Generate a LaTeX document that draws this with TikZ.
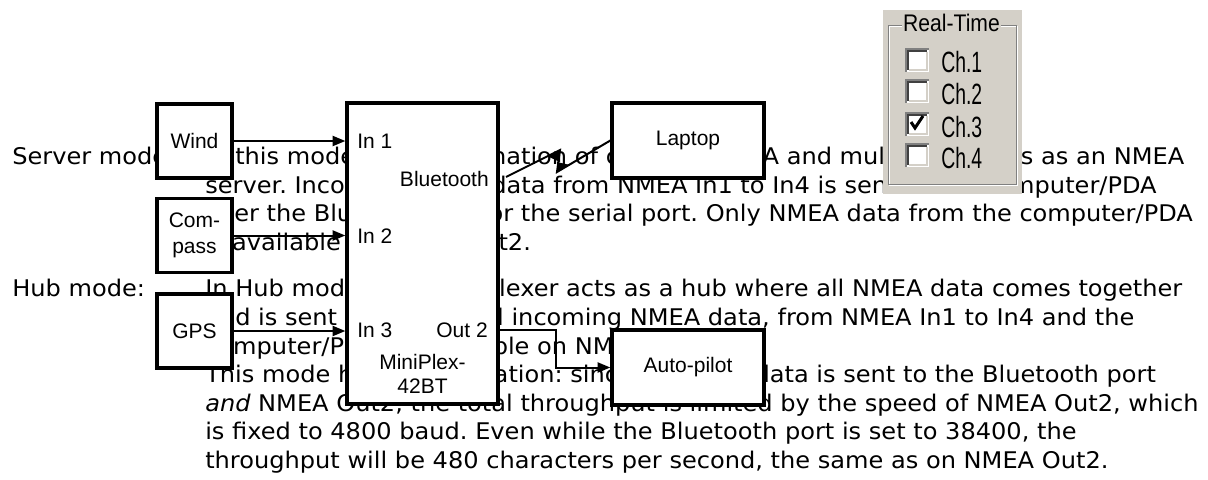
\documentclass[tikz,border=0pt]{standalone}
\usepackage{fontspec}
\setmainfont[FakeStretch=1.05]{DejaVu Sans}
\newfontfamily\labelfont{Liberation Sans}
\newfontfamily\groupfont[FakeStretch=0.88]{Liberation Sans}
\newfontfamily\chfont[FakeStretch=0.66]{Liberation Sans}
\usetikzlibrary{arrows.meta}
\definecolor{panelgray}{RGB}{212,208,200}
\definecolor{shadegray}{RGB}{128,128,128}
\definecolor{darkshade}{RGB}{64,64,64}
\frenchspacing

\tikzset{
  bodytext/.style={anchor=base west, inner sep=0pt, font=\fontsize{17.2}{22}\selectfont},
  unitbox/.style={draw, line width=2.5pt, fill=white, align=center, inner sep=0pt, font=\labelfont\fontsize{15.75}{20}\selectfont},
  sensorbox/.style={unitbox, minimum width=56.25pt, minimum height=55.5pt},
  devicebox/.style={unitbox, minimum width=114pt, minimum height=56.25pt},
  port/.style={inner sep=0pt, font=\labelfont\fontsize{15.75}{18}\selectfont},
  feed/.style={line width=1.5pt, -{Triangle[length=9.5pt,width=7.5pt]}},
  chlabel/.style={anchor=base west, inner sep=0pt, font=\chfont\fontsize{22}{24}\selectfont},
}

\begin{document}
\begin{tikzpicture}[x=0.75pt,y=-0.75pt]
\useasboundingbox (0,0) rectangle (1208,479);
% text under the diagram
\node[bodytext] (srvhead) at (12,164) {Server mode:};
\node[bodytext] (srv1) at (205,164) {In this mode, the combination of computer/PDA and multiplexer acts as an NMEA};
\node[bodytext] (srv2) at (205,193) {server. Incoming NMEA data from NMEA In1 to In4 is sent to the computer/PDA};
\node[bodytext] (srv3) at (205,221.5) {over the Bluetooth link or the serial port. Only NMEA data from the computer/PDA};
\node[bodytext] (srv4) at (205,250) {is available on NMEA Out2.};
\node[bodytext] (hubhead) at (12,296.7) {Hub mode:};
\node[bodytext] (hub1) at (205,296.7) {In Hub mode, the multiplexer acts as a hub where all NMEA data comes together};
\node[bodytext] (hub2) at (205,325.3) {and is sent out again. All incoming NMEA data, from NMEA In1 to In4 and the};
\node[bodytext] (hub3) at (205,354) {computer/PDA, is available on NMEA Out2.};
\node[bodytext] (hub4) at (205,382.6) {This mode has one limitation: since all NMEA data is sent to the Bluetooth port};
\node[bodytext] (hub5) at (205,411.2) {\itshape and\upshape{} NMEA Out2, the total throughput is limited by the speed of NMEA Out2, which};
\node[bodytext] (hub6) at (205,439.8) {is fixed to 4800 baud. Even while the Bluetooth port is set to 38400, the};
\node[bodytext] (hub7) at (205,468.4) {throughput will be 480 characters per second, the same as on NMEA Out2.};

% diagram
\node[sensorbox] (wind) at (194.5,141) {Wind};
\node[sensorbox] (compass) at (194.5,235.5) {Com-\\pass};
\node[sensorbox] (gps) at (194.5,331) {GPS};
\node[unitbox, minimum width=113.25pt, minimum height=225.75pt] (mp) at (422.5,253.5) {};
\node[devicebox] (laptop) at (688,140.5) {Laptop};
\node[devicebox] (ap) at (688,367.5) {Auto-pilot};

\node[port, anchor=west] (in1) at (357,141) {In 1};
\node[port, anchor=west] (in2) at (357,236) {In 2};
\node[port, anchor=west] (in3) at (357,330) {In 3};
\node[port, anchor=east] (bluetooth) at (489,179) {Bluetooth};
\node[port, anchor=east] (out2) at (488,330) {Out 2};
\node[port, align=center, font=\labelfont\fontsize{15.75}{18}\selectfont] (mpname) at (422.5,374) {MiniPlex-\\42BT};

\draw[feed] (wind.east) -- (wind.east -| mp.west);
\draw[feed] (compass.east) -- (compass.east -| mp.west);
\draw[feed] (gps.east) -- (gps.east -| mp.west);

\coordinate (bend) at (556,330);
\draw[feed] (mp.east |- bend) -- (bend) |- (ap.west);

\coordinate (bt) at (506,177);
\coordinate (boltup) at (560,150);
\coordinate (boltdown) at (557,172);
\draw[line width=1.5pt, line join=miter] (bt) -- (boltup) -- (boltdown) -- (laptop.west);
\fill (547,156) -- (boltup) -- (560,162) -- cycle;
\fill (boltdown) -- (557,162) -- (570,165) -- cycle;

% real-time panel
\fill[panelgray] (883,10) rectangle (1022,194);
\draw[white, line width=0.75pt] (889,26) rectangle (1017,185);
\draw[shadegray, line width=0.75pt] (888,25) rectangle (1016,184);
\node[anchor=base, fill=panelgray, inner sep=1pt, font=\groupfont\fontsize{18}{20}\selectfont] (rt) at (951.5,31) {Real-Time};
\foreach \n/\yc in {1/59.5,2/91,3/124,4/155} {
  \fill[white] (905,\yc-12) rectangle (929,\yc+12);
  \draw[shadegray, line width=1.5pt] (906,\yc+12) -- (906,\yc-11) -- (929,\yc-11);
  \draw[darkshade, line width=1.5pt] (908,\yc+10) -- (908,\yc-9) -- (927,\yc-9);
  \draw[panelgray, line width=1.5pt] (909,\yc+10) -- (927,\yc+10) -- (927,\yc-8);
  \node[chlabel] (ch\n) at (941,\yc+13) {Ch.\n};
}
\draw[line width=2.25pt, line join=miter] (911,122) -- (915,128) -- (923,116);
\end{tikzpicture}
\end{document}
